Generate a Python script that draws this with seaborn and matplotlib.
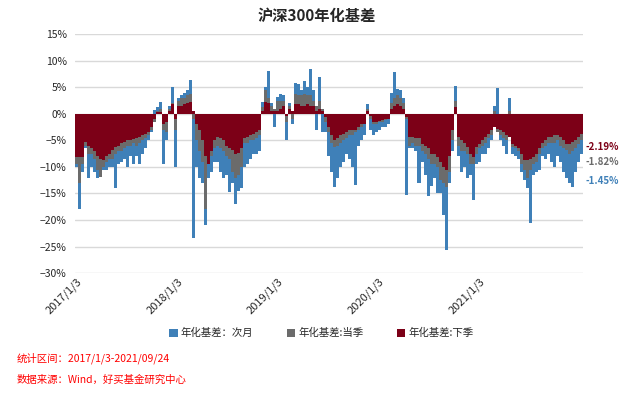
import numpy as np
import pandas as pd
import seaborn as sns
import matplotlib.pyplot as plt
import matplotlib.ticker as mtick

basis_next_month = [  # 次月
    -10, -18, -11, -6.5, -12, -10, -11, -12, -11.9, -10.5, -10.5, -10, -10, -14, -9.5, -9, -8.5, -10, -8,
    -9.5, -8, -9.5, -7.5, -6.5, -5, -3.5, 0.8, 1.2, 2.2, -9.4, -5, 1.5, 5.1, -10, 3, 3.5, 4, 4.5,
    6.4, -23.4, -10, -12, -13, -21, -12, -11, -9, -9, -11, -12, -11.5, -14.7, -13, -16.9, -14.5, -14, -10,
    -9.4, -8.5, -7.5, -7.5, -7, 2.2, 5, 8, 2, -2.5, 3.1, 3.75, 3.5, -5, 2, -2, 5.9, 5.6, 4.5,
    6.2, 5, 8.4, 4.5, -3, 6.9, -3.5, -3.5, -8, -11, -13.75, -12, -10, -9, -7.5, -8.5, -10, -13.4, -6,
    -5, -4, 1.9, -3, -4, -3.5, -3, -2.5, -2.5, -2, 4, 7.8, 4.7, 4.4, 3, -15.3, -6.5, -6.5, -7,
    -13, -9, -11.5, -15.5, -13.5, -12, -15, -15, -19, -25.6, -13, -7, 5.3, -8, -11, -10, -12, -11.5, -16.3,
    -9.5, -9, -7.5, -7.5, -6.5, -5, 1.5, 4.9, -5, -6, -7.5, 3, -7.5, -8, -8.5, -11, -12.5, -14, -20.6,
    -11.5, -11, -10.5, -8, -8.5, -7.5, -9, -10, -8, -9, -11, -12, -13, -13.7, -11, -9, -7.5,
]
basis_this_quarter = [  # 当季
    -9.4, -13, -9.5, -6, -7.5, -7.5, -8.5, -10.5, -11.9, -10, -9, -8.5, -8.5, -7.5, -7, -7, -6.5, -6, -6,
    -5.5, -6, -5.5, -5, -4.5, -4, -3, -1.5, 0.5, 1, -3, -3.5, 1, 2, -3, 2.5, 3, 3, 3.5,
    3.75, -1, -5, -7, -9, -18, -9.5, -8, -6.5, -6, -6.5, -7, -8, -8.5, -11, -12, -11.5, -10, -5.5,
    -5.5, -5, -5, -4.5, -4, 1.2, 4.4, 3, 1.5, 1, 2.5, 2.5, 2.5, -1.5, 1.5, -1, 3.75, 3.5, 3.5,
    3.75, 3.5, 3.5, 2.5, 1.5, 2.5, 1, -1.5, -3.5, -5.5, -6.25, -6, -5.5, -5, -4.5, -4, -4, -3.5, -3,
    -2.5, -2, 1, -1, -2, -2, -1.5, -1.5, -1.2, -1, 2, 3, 3.5, 3, 2, -1, -6, -5.5, -6,
    -6, -7, -7.5, -8.5, -9.5, -9.5, -10, -12.5, -13, -13.7, -11, -5, 2.5, -6, -7, -7, -7.5, -9.4, -9.5,
    -7.5, -6.5, -6, -5.5, -4.5, -4, 0.5, -3.5, -4, -4.5, -5, 0.5, -6.25, -6.5, -7, -9.4, -10.5, -12, -10.5,
    -9.5, -9, -7.5, -6.5, -6, -5.5, -5.5, -5.5, -5, -6, -6.5, -6.9, -7.5, -7, -6.5, -5.6, -5,
]
basis_next_quarter = [  # 下季
    -8.1, -8.1, -8.1, -5.3, -6, -6.5, -7, -8, -8.5, -8.75, -8, -7.5, -6.9, -6.25, -6, -5.5, -5.3, -5, -5,
    -4.7, -4.5, -4.4, -4, -3.75, -3.5, -2.5, -1, 0.3, 0.3, -2, -1.5, 0.5, 1.9, -1, 1.5, 1.5, 1.9, 2,
    2.2, 0.5, -1.9, -3, -5, -8, -9.4, -7, -5, -4.4, -4.5, -5, -6, -6.5, -6.9, -7.5, -7.3, -6.5, -4.5,
    -4.4, -4, -3.75, -3.5, -3.1, 0.6, 2.2, 2, 0.6, 0.6, 0.6, 1, 1.5, -0.5, 1, 0.5, 1.9, 1.9, 1.5,
    1.5, 1.9, 1.5, 1.5, 0.6, 1, 0.6, -0.6, -2.5, -4, -5, -4.5, -4, -3.75, -3.5, -3.1, -3, -3, -2.5,
    -2, -1.9, 0.6, -0.5, -1.6, -1.5, -1.3, -1.2, -1, -0.9, 1, 1.5, 1.9, 1.5, 1, -0.6, -4.4, -4.4, -4.5,
    -4.5, -5.6, -6, -6.5, -7.5, -7.5, -8.1, -9, -10, -10.6, -8, -3, 1.2, -4.4, -5, -5.5, -6.25, -7.5, -8.1,
    -6.25, -5.6, -5, -4.4, -3.75, -3.1, -2.5, -2.8, -3.1, -3.4, -4, -4.4, -5.6, -6, -6.5, -7.5, -8.75, -8.75, -8.5,
    -8.1, -7.5, -6.5, -5.5, -5, -4.4, -4.4, -4, -4, -4.4, -5, -5.6, -5.6, -5.3, -5, -4.4, -3.75,
]
tick_labels = ['2017/1/3', '2018/1/3', '2019/1/3', '2020/1/3', '2021/1/3']
series_names = ['年化基差：次月', '年化基差:当季', '年化基差:下季']
last_values = ['-1.45%', '-1.82%', '-2.19%']

colors = ['#3F80B8', '#6B6B6B', '#7C0017']

sns.set_style('white')
plt.rcParams['font.family'] = ['Noto Sans CJK SC', 'DejaVu Sans']

fig = plt.figure(figsize=(6.3, 3.93), dpi=100)
ax = fig.add_axes([0.119, 0.305, 0.806, 0.608])

idx = np.arange(len(basis_next_month))
for vals, name, c in zip([basis_next_month, basis_this_quarter, basis_next_quarter], series_names, colors):
    sns.barplot(x=idx, y=vals, color=c, width=1.0, saturation=1, linewidth=0,
                label=name, ax=ax, zorder=3)

ax.set_ylim(-30, 15)
ax.set_yticks(np.arange(-30, 16, 5))
ax.yaxis.set_major_formatter(mtick.FuncFormatter(lambda v, p: f'{v:.0f}%'.replace('-', '\u2212')))
ax.set_xlim(-0.5, len(idx) - 0.5)
# category axis: one label roughly every 33.5 samples
ax.set_xticks(np.arange(len(tick_labels)) * 33.5)
ax.set_xticklabels(tick_labels, rotation=45, ha='right', rotation_mode='anchor', fontsize=8)
ax.tick_params(axis='y', labelsize=7.5, length=0, pad=6)
ax.tick_params(axis='x', length=0, pad=2)
ax.grid(axis='y', color='#D9D9D9', linewidth=1, zorder=0)
ax.set_axisbelow(True)
for s in ax.spines.values():
    s.set_visible(False)
ax.set_xlabel('')
ax.set_ylabel('')

fig.text(0.502, 0.96, '沪深300年化基差', ha='center', va='center', fontsize=11, fontweight='bold')

# end-of-series value labels
for lab, c, y in zip(last_values, colors, [181, 162, 147]):
    fig.text(586 / 630, 1 - y / 393, lab, color=c, fontsize=7, fontweight='bold', va='center', ha='left')

handles, labels = ax.get_legend_handles_labels()
if ax.get_legend() is not None:
    ax.get_legend().remove()
fig.legend(handles, labels, loc='center', bbox_to_anchor=(0.51, 0.152), ncol=3, frameon=False,
           fontsize=7.5, handlelength=0.8, handleheight=0.8, handletextpad=0.3, columnspacing=3.2)

fig.text(17 / 630, 1 - 358 / 393, '统计区间：2017/1/3-2021/09/24', color='#FF0000', fontsize=7.5, va='center')
fig.text(17 / 630, 1 - 380 / 393, '数据来源：Wind，好买基金研究中心', color='#FF0000', fontsize=7.5, va='center')

fig.savefig('out.png', dpi=100)
